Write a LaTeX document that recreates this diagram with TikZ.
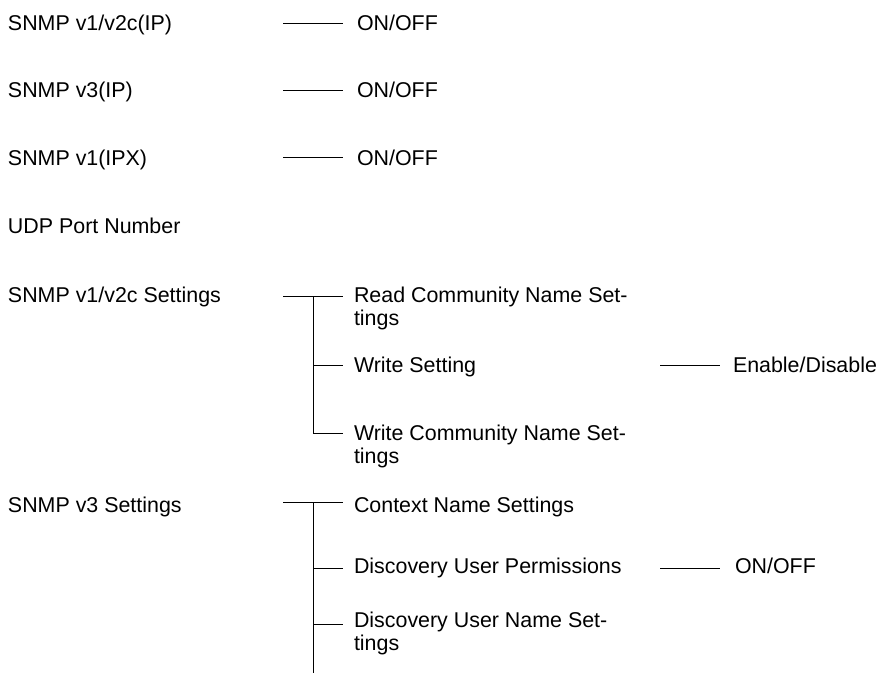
\documentclass[tikz,border=0pt]{standalone}
\usepackage{fontspec}
\setmainfont{Liberation Sans}
\begin{document}
\begin{tikzpicture}[x=1pt,y=-1pt,
  lbl/.style={anchor=base west, inner sep=0pt, outer sep=0pt, font=\fontsize{21.4}{23}\selectfont, align=left},
  conn/.style={line width=1pt}]
\useasboundingbox (0,0) rectangle (882,675);
% left column
\node[lbl] (n1) at (8,30) {SNMP v1/v2c(IP)};
\node[lbl] (n2) at (8,97) {SNMP v3(IP)};
\node[lbl] (n3) at (8,165) {SNMP v1(IPX)};
\node[lbl] (n4) at (8,233) {UDP Port Number};
\node[lbl] (n5) at (8,302) {SNMP v1/v2c Settings};
\node[lbl] (n6) at (8,512) {SNMP v3 Settings};
% simple options
\node[lbl, inner xsep=14pt] (o1) at (343,30) {ON/OFF};
\node[lbl, inner xsep=14pt] (o2) at (343,97) {ON/OFF};
\node[lbl, inner xsep=14pt] (o3) at (343,165) {ON/OFF};
\coordinate (c1) at (283,23.3);
\coordinate (c2) at (283,90.3);
\coordinate (c3) at (283,157.5);
\draw[conn] (c1) -- (c1 -| o1.west);
\draw[conn] (c2) -- (c2 -| o2.west);
\draw[conn] (c3) -- (c3 -| o3.west);
% SNMP v1/v2c tree (multi-line nodes are placed by the baseline of their last line)
\node[lbl, inner xsep=11pt] (r1) at (343,325) {Read Community Name Set-\\tings};
\node[lbl, inner xsep=11pt] (r2) at (343,372) {Write Setting};
\node[lbl, inner xsep=11pt] (r3) at (343,463) {Write Community Name Set-\\tings};
\node[lbl, inner xsep=13pt] (e1) at (720,372) {Enable/Disable};
\coordinate (c5) at (283,296);
\coordinate (j5) at (313,296);
\coordinate (j5b) at (313,365);
\coordinate (j5c) at (313,433);
\coordinate (w1) at (660,365);
\draw[conn] (c5) -- (c5 -| r1.west);
\draw[conn] (j5) -- (j5c) -- (j5c -| r3.west);
\draw[conn] (j5b) -- (j5b -| r2.west);
\draw[conn] (w1) -- (w1 -| e1.west);
% SNMP v3 tree
\node[lbl, inner xsep=11pt] (s1) at (343,512) {Context Name Settings};
\node[lbl, inner xsep=11pt] (s2) at (343,573) {Discovery User Permissions};
\node[lbl, inner xsep=11pt] (s3) at (343,650) {Discovery User Name Set-\\tings};
\node[lbl, inner xsep=15pt] (o4) at (720,573) {ON/OFF};
\coordinate (c6) at (283,502);
\coordinate (j6) at (313,502);
\coordinate (j6b) at (313,568);
\coordinate (j6c) at (313,624);
\coordinate (j6d) at (313,673);
\coordinate (w2) at (660,568);
\draw[conn] (c6) -- (c6 -| s1.west);
\draw[conn] (j6) -- (j6d);
\draw[conn] (j6b) -- (j6b -| s2.west);
\draw[conn] (j6c) -- (j6c -| s3.west);
\draw[conn] (w2) -- (w2 -| o4.west);
\end{tikzpicture}
\end{document}
